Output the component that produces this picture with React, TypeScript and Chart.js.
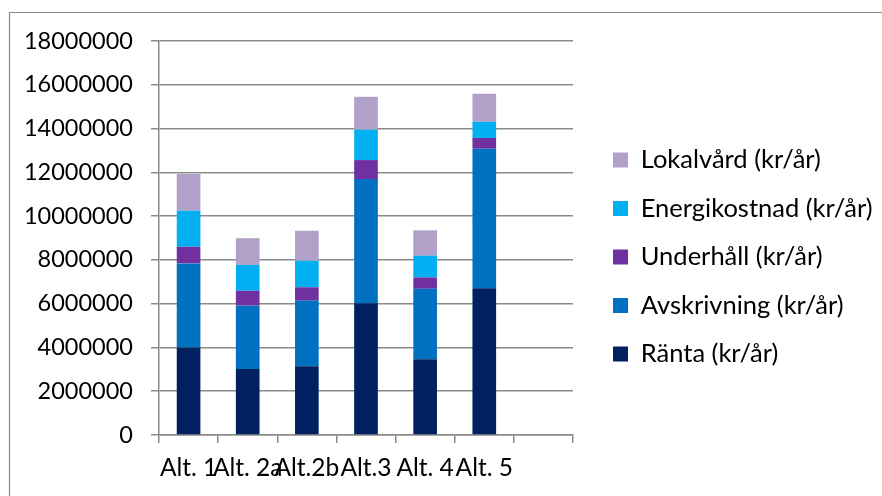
import React, { useEffect, useRef } from 'react';
import { Chart, registerables } from 'chart.js';

Chart.register(...registerables);

const categories = ['Alt. 1', 'Alt. 2a', 'Alt.2b', 'Alt.3', 'Alt. 4', 'Alt. 5', ''];

const ranta = [4000000, 3020000, 3140000, 6020000, 3460000, 6700000];
const avskrivning = [3840000, 2890000, 3000000, 5670000, 3220000, 6380000];
const underhall = [760000, 680000, 610000, 870000, 520000, 490000];
const energikostnad = [1650000, 1180000, 1210000, 1390000, 990000, 740000];
const lokalvard = [1670000, 1220000, 1370000, 1500000, 1160000, 1280000];

const seriesNames = [
  'Ränta (kr/år)',
  'Avskrivning (kr/år)',
  'Underhåll (kr/år)',
  'Energikostnad (kr/år)',
  'Lokalvård (kr/år)',
];
const seriesColors = ['#002060', '#0070C0', '#7030A0', '#00B0F0', '#B1A0C7'];

const yMin = 0;
const yMax = 18000000;
const yStep = 2000000;

const FONT = 'Lato';
const GRID = '#8A8A8A';

export default function App() {
  const ref = useRef<HTMLCanvasElement>(null);

  useEffect(() => {
    if (!ref.current) return;
    const frame = {
      id: 'frame',
      beforeDraw(chart: any) {
        const ctx = chart.ctx;
        ctx.save();
        ctx.fillStyle = '#ffffff';
        ctx.fillRect(0, 0, chart.width, chart.height);
        ctx.strokeStyle = GRID;
        ctx.lineWidth = 1.2;
        ctx.beginPath();
        ctx.moveTo(9.5, chart.height);
        ctx.lineTo(9.5, 12.5);
        ctx.lineTo(chart.width, 12.5);
        ctx.stroke();
        ctx.restore();
      },
    };
    const values = [ranta, avskrivning, underhall, energikostnad, lokalvard];
    const chart = new Chart(ref.current, {
      type: 'bar',
      data: {
        labels: categories,
        datasets: values.map((d, i) => ({
          label: seriesNames[i],
          data: d,
          backgroundColor: seriesColors[i],
          borderWidth: 0,
          barPercentage: 0.4,
          categoryPercentage: 1,
        })),
      },
      options: {
        animation: false,
        responsive: true,
        maintainAspectRatio: false,
        layout: { padding: { top: 18, left: 0, right: 0, bottom: 0 } },
        plugins: {
          legend: {
            position: 'right',
            reverse: true,
            maxWidth: 292,
            labels: {
              boxWidth: 15,
              boxHeight: 15,
              padding: 23,
              color: '#000000',
              font: { family: FONT, size: 25.5 },
            },
          },
          tooltip: { enabled: false },
        },
        scales: {
          x: {
            stacked: true,
            grid: {
              offset: true,
              drawOnChartArea: false,
              drawTicks: true,
              tickLength: 8,
              color: GRID,
              lineWidth: 1.5,
            },
            border: { color: GRID, width: 1.5 },
            ticks: {
              autoSkip: false,
              maxRotation: 0,
              minRotation: 0,
              color: '#000000',
              font: { family: FONT, size: 24.5 },
              padding: 10,
            },
            afterFit: (s: any) => {
              s.height = 61;
            },
          },
          y: {
            stacked: true,
            min: yMin,
            max: yMax,
            ticks: {
              stepSize: yStep,
              callback: (v: any) => String(v),
              padding: 18,
              color: '#000000',
              font: { family: FONT, size: 23.5 },
            },
            grid: { color: GRID, lineWidth: 1.5, tickLength: 8 },
            border: { color: GRID, width: 1.5 },
            afterFit: (s: any) => {
              s.width = 159;
            },
          },
          xTop: {
            type: 'category',
            position: 'top',
            display: true,
            grid: { display: false },
            ticks: { display: false },
            border: { display: false },
            afterFit: (s: any) => {
              s.height = 23;
            },
          },
          ySpacer: {
            type: 'linear',
            position: 'right',
            display: true,
            grid: { display: false },
            ticks: { display: false },
            border: { display: false },
            afterFit: (s: any) => {
              const lw = s.chart.legend ? s.chart.legend.width : 0;
              s.width = Math.max(0, s.chart.width - 573 - lw);
            },
          },
        },
      },
      plugins: [frame],
    });
    return () => chart.destroy();
  }, []);

  return (
    <div
      style={{
        position: 'fixed',
        left: 0,
        top: 0,
        width: 882,
        height: 496,
        background: '#ffffff',
      }}
    >
      <canvas ref={ref} />
    </div>
  );
}
